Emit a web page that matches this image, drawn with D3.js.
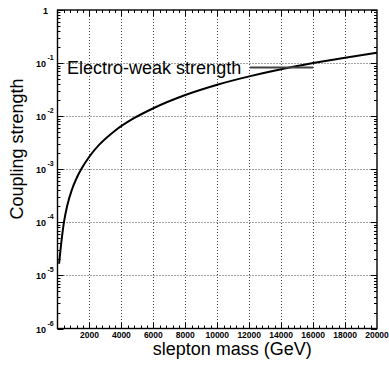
<!DOCTYPE html>
<html>
<head>
<meta charset="utf-8">
<script src="https://cdn.jsdelivr.net/npm/d3@7"></script>
<style>
  html, body { margin: 0; padding: 0; background: #fff; }
  svg { display: block; }
  text { font-family: "Liberation Sans", Arial, sans-serif; }
</style>
</head>
<body>
<svg id="chart" width="389" height="367"></svg>
<script>
// ---- data ----
const massGeV  = [100, 250, 400, 600, 900, 1200, 1500, 2000, 2600, 3600, 4700, 6000, 8000, 10000, 12000, 14000, 16000, 18000, 20000];
const coupling = [1.66e-5, 4.47e-5, 9.9e-5, 2.01e-4, 4.11e-4, 6.85e-4, 1.02e-3, 1.74e-3, 2.87e-3, 5.33e-3, 8.85e-3, 1.41e-2, 2.50e-2, 3.91e-2, 5.62e-2, 7.66e-2, 0.100, 0.1265, 0.156];
const xTickValues = [2000, 4000, 6000, 8000, 10000, 12000, 14000, 16000, 18000, 20000];
const yDecadeExponents = [-6, -5, -4, -3, -2, -1, 0];
const annotationText = "Electro-weak strength";
const annotationTextPos = [600, 0.061];
const annotationLine = [[12050, 0.083], [16000, 0.083]];
const xTitle = "slepton mass (GeV)";
const yTitle = "Coupling strength";

(function () {
const svg = d3.select("#chart");
const pL = 57.5, pR = 377, pT = 10, pB = 328.5;
const x = d3.scaleLinear().domain([0, 20000]).range([pL, pR]);
const y = d3.scaleLog().domain([1e-6, 1]).range([pB, pT]);

// grid lines (dotted)
const grid = svg.append("g").attr("stroke", "#444").attr("stroke-width", 1).attr("stroke-dasharray", "1,2");
grid.selectAll("line.gx").data(xTickValues.filter(v => v < 20000)).enter().append("line")
  .attr("x1", d => Math.round(x(d)) + 0.5).attr("x2", d => Math.round(x(d)) + 0.5)
  .attr("y1", pT).attr("y2", pB);
grid.selectAll("line.gy").data(yDecadeExponents.filter(e => e > -6 && e < 0)).enter().append("line")
  .attr("y1", d => Math.round(y(Math.pow(10, d))) + 0.5).attr("y2", d => Math.round(y(Math.pow(10, d))) + 0.5)
  .attr("x1", pL).attr("x2", pR);

// frame
svg.append("rect").attr("x", pL).attr("y", pT).attr("width", pR - pL).attr("height", pB - pT)
  .attr("fill", "none").attr("stroke", "#000").attr("stroke-width", 1.4);

// x ticks (inward), bottom and top
const xMinor = d3.range(400, 20000, 400);
const tk = svg.append("g").attr("stroke", "#000").attr("stroke-width", 1);
xMinor.forEach(v => {
  const major = v % 2000 === 0;
  const len = major ? 6 : 3;
  const px = Math.round(x(v)) + 0.5;
  tk.append("line").attr("x1", px).attr("x2", px).attr("y1", pB).attr("y2", pB - len);
  tk.append("line").attr("x1", px).attr("x2", px).attr("y1", pT).attr("y2", pT + len);
});
// y ticks (log minor), left and right
yDecadeExponents.forEach(e => {
  if (e < 0) {
    for (let m = 2; m <= 9; m++) {
      const py = Math.round(y(m * Math.pow(10, e))) + 0.5;
      tk.append("line").attr("x1", pL).attr("x2", pL + 3).attr("y1", py).attr("y2", py);
      tk.append("line").attr("x1", pR).attr("x2", pR - 3).attr("y1", py).attr("y2", py);
    }
  }
  const py = Math.round(y(Math.pow(10, e))) + 0.5;
  tk.append("line").attr("x1", pL).attr("x2", pL + 6).attr("y1", py).attr("y2", py);
  tk.append("line").attr("x1", pR).attr("x2", pR - 6).attr("y1", py).attr("y2", py);
});

// x tick labels
svg.append("g").selectAll("text").data(xTickValues).enter().append("text")
  .attr("x", d => x(d)).attr("y", 338).attr("text-anchor", "middle")
  .attr("font-size", 8.5).attr("font-weight", "bold").text(d => d);

// y tick labels
const yl = svg.append("g").attr("font-weight", "bold");
yDecadeExponents.forEach(e => {
  const py = y(Math.pow(10, e));
  if (e === 0) {
    yl.append("text").attr("x", 48).attr("y", py + 4).attr("text-anchor", "end").attr("font-size", 9).text("1");
  } else {
    yl.append("text").attr("x", 46).attr("y", py + 4).attr("text-anchor", "end").attr("font-size", 9).text("10");
    yl.append("text").attr("x", 47.5).attr("y", py - 3).attr("text-anchor", "start").attr("font-size", 7).text(String(e));
  }
});

// curve
const line = d3.line().x(d => x(d[0])).y(d => y(d[1])).curve(d3.curveMonotoneX);
svg.append("path").datum(massGeV.map((m, i) => [m, coupling[i]]))
  .attr("d", line).attr("fill", "none").attr("stroke", "#000").attr("stroke-width", 2);

// annotation
svg.append("text").attr("x", x(annotationTextPos[0])).attr("y", y(annotationTextPos[1]))
  .attr("font-size", 18).text(annotationText);
svg.append("line")
  .attr("x1", x(annotationLine[0][0])).attr("y1", y(annotationLine[0][1]))
  .attr("x2", x(annotationLine[1][0])).attr("y2", y(annotationLine[1][1]))
  .attr("stroke", "#444").attr("stroke-width", 2);

// axis titles
svg.append("text").attr("x", (pL + pR) / 2 + 15).attr("y", 355).attr("text-anchor", "middle")
  .attr("font-size", 18).text(xTitle);
svg.append("text").attr("transform", "translate(23,149) rotate(-90)").attr("text-anchor", "middle")
  .attr("font-size", 18).text(yTitle);
})();
</script>
</body>
</html>
